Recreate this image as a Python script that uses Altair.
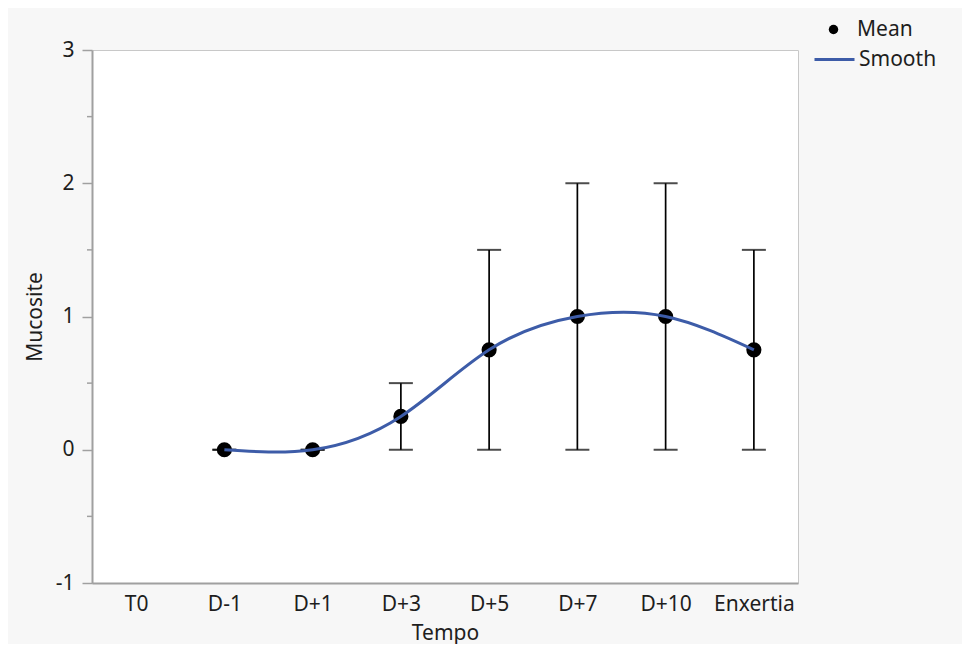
import altair as alt
import pandas as pd

# ---- data ----
categories = ["T0", "D-1", "D+1", "D+3", "D+5", "D+7", "D+10", "Enxertia"]
time_points = ["D-1", "D+1", "D+3", "D+5", "D+7", "D+10", "Enxertia"]
mean_values = [0, 0, 0.25, 0.75, 1, 1, 0.75]
lower_values = [0, 0, 0, 0, 0, 0, 0]
upper_values = [0, 0, 0.5, 1.5, 2, 2, 1.5]
y_major_ticks = [-1, 0, 1, 2, 3]
y_minor_ticks = [-0.5, 0.5, 1.5, 2.5]

df = pd.DataFrame({"Tempo": time_points, "Mean": mean_values,
                   "Lower": lower_values, "Upper": upper_values})
minor_df = pd.DataFrame({"v": y_minor_ticks})

FONT = "Noto Sans"
TXT = "#1e1e1e"
AXC = "#a0a0a0"
BLUE = "#3d5ca8"
FS = 21

x_scale = alt.Scale(domain=categories, type="point", padding=0.5)
y_scale = alt.Scale(domain=[-1, 3], nice=False, zero=False)

x_axis = alt.Axis(title="Tempo", labelAngle=0, ticks=False, labelPadding=10,
                  titlePadding=8, domainColor=AXC, domainWidth=2,
                  labelFontSize=FS, titleFontSize=FS, labelColor=TXT,
                  titleColor=TXT, titleFontWeight="normal", labelFont=FONT,
                  titleFont=FONT, grid=False)
y_axis = alt.Axis(title="Mucosite", values=y_major_ticks, tickSize=10,
                  tickColor=AXC, tickWidth=1.5, labelPadding=8, titlePadding=10,
                  labelExpr="'' + datum.value",
                  domainColor=AXC, domainWidth=2, labelFontSize=FS,
                  titleFontSize=FS, labelColor=TXT, titleColor=TXT,
                  titleFontWeight="normal", labelFont=FONT, titleFont=FONT,
                  grid=False)

X = alt.X("Tempo:N", scale=x_scale, sort=categories, axis=x_axis)

base = alt.Chart(df)

bars = base.mark_rule(color="black", strokeWidth=1.7).encode(
    x=X,
    y=alt.Y("Lower:Q", scale=y_scale, axis=y_axis),
    y2="Upper:Q",
)
cap_lo = base.mark_tick(color="black", size=24, thickness=2).encode(
    x=X, y=alt.Y("Lower:Q", scale=y_scale, axis=y_axis))
cap_hi = base.mark_tick(color="black", size=24, thickness=2).encode(
    x=X, y=alt.Y("Upper:Q", scale=y_scale, axis=y_axis))

points = base.mark_point(filled=True, size=230, color="black", opacity=1).encode(
    x=X,
    y=alt.Y("Mean:Q", scale=y_scale, axis=y_axis),
    shape=alt.Shape(
        "series:N",
        scale=alt.Scale(domain=["Mean"], range=["circle"]),
        legend=alt.Legend(title=None, orient="none", legendX=731, legendY=-31,
                          symbolSize=90, symbolFillColor="black",
                          symbolStrokeColor="black", labelOffset=13,
                          labelFontSize=FS, labelFont=FONT, labelColor=TXT),
    ),
).transform_calculate(series="'Mean'")

smooth = base.mark_line(interpolate="natural", strokeWidth=3).encode(
    x=X,
    y=alt.Y("Mean:Q", scale=y_scale, axis=y_axis),
    color=alt.Color(
        "series:N",
        scale=alt.Scale(domain=["Smooth"], range=[BLUE]),
        legend=alt.Legend(title=None, orient="none", legendX=721, legendY=-12,
                          symbolType="stroke", symbolSize=1600,
                          symbolStrokeWidth=3, symbolStrokeColor=BLUE,
                          labelOffset=3, labelFontSize=FS, labelFont=FONT,
                          labelColor=TXT),
    ),
).transform_calculate(series="'Smooth'")

minor = alt.Chart(minor_df).mark_rule(color=AXC, strokeWidth=1.5).encode(
    y=alt.Y("v:Q", scale=y_scale, axis=y_axis),
    x=alt.value(-5), x2=alt.value(0),
)

chart = alt.layer(bars, cap_lo, cap_hi, points, smooth, minor).properties(
    width=706, height=533,
    padding={"left": 84, "top": 42, "right": 164, "bottom": 61},
    autosize=alt.AutoSizeParams(type="none"),
).configure(background="#f7f7f7").configure_view(
    fill="white", stroke="#c8c8c8", strokeWidth=1)

chart.save("out.html", embed_options={"renderer": "svg", "actions": False})
